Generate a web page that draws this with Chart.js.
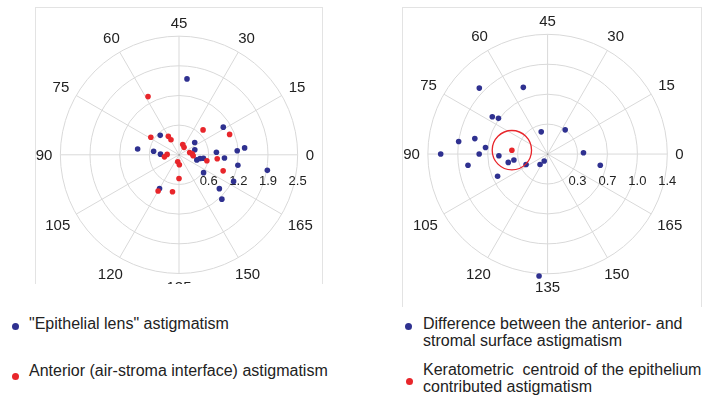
<!DOCTYPE html>
<html>
<head>
<meta charset="utf-8">
<script src="https://cdn.jsdelivr.net/npm/chart.js@4.4.1/dist/chart.umd.min.js"></script>
<style>
    body { margin: 0; width: 706px; height: 401px; background: #fff; position: relative; overflow: hidden;
           font-family: "Liberation Sans", Arial, Helvetica, sans-serif; color: #222; }
    .frame { position: absolute; box-sizing: border-box; border: 1px solid #e3e3e3; border-bottom: none; }
    canvas { position: absolute; }
    .dot { position: absolute; width: 7px; height: 7px; border-radius: 50%; }
    .txt { position: absolute; font-size: 16px; line-height: 17px; white-space: pre; }
</style>
</head>
<body>
<div class="frame" style="left:35px;top:7px;width:288px;height:277px;"></div>
<div class="frame" style="left:402px;top:7px;width:300px;height:300px;"></div>
<canvas id="left-chart" width="288" height="277" style="left:35px;top:7px;"></canvas>
<canvas id="right-chart" width="300" height="300" style="left:402px;top:7px;"></canvas>
<div id="legend"></div>

<script>
// axis labels (degrees) around both plots, drawn at double angle
const angleTicks = [0, 15, 30, 45, 60, 75, 90, 105, 120, 135, 150, 165];

// ring values and their printed labels
const leftRingValues = [0.625, 1.25, 1.875, 2.5];
const leftRingLabels = ["0.6", "1.2", "1.9", "2.5"];
const rightRingValues = [0.35, 0.7, 1.05, 1.4];
const rightRingLabels = ["0.3", "0.7", "1.0", "1.4"];

// left plot: magnitude (D) and axis (deg)
const epithelialMag  = [1.61, 1.10, 0.57, 0.88, 0.54, 0.39, 0.42, 0.35, 0.39, 0.45, 0.52, 0.79, 0.96, 1.23, 1.39, 1.26, 1.89, 0.64, 1.28, 1.11, 1.30, 0.82];
const epithelialAxis = [42, 16, 67, 86, 86, 89, 19, 9, 172, 175, 176, 2, 178, 2, 3, 175, 175, 162, 167, 160, 157, 120];
const anteriorMag    = [1.39, 0.70, 0.45, 0.36, 0.23, 0.19, 0.23, 0.28, 0.30, 0.25, 0.31, 0.15, 0.21, 0.50, 0.88, 0.79, 0.73, 1.15, 0.60, 0.81, 0.99];
const anteriorAxis   = [59, 74, 60, 59, 35, 28, 6, 2, 178, 89, 94, 130, 136, 135, 120, 130, 23, 11, 174, 177, 170];

// right plot
const differenceMag  = [1.11, 0.83, 0.78, 0.71, 0.27, 0.35, 1.05, 0.87, 0.73, 0.80, 1.25, 0.94, 0.57, 0.47, 0.40, 0.28, 0.15, 0.09, 0.64, 0.42, 0.63, 1.43];
const differenceAxis = [68, 55, 73, 72, 53, 27, 86, 84, 87, 90, 90, 94, 91, 96, 95, 103, 117, 122, 102, 1, 174, 133];
const centroidMag    = [0.42];
const centroidAxis   = [86.9];
const centroidRadius = 0.23;

const leftLabels  = ["\"Epithelial lens\" astigmatism", "Anterior (air-stroma interface) astigmatism"];
const rightLabels = ["Difference between the anterior- and\nstromal surface astigmatism",
                     "Keratometric  centroid of the epithelium\ncontributed astigmatism"];

const BLUE = '#2f3190';
const RED = '#e8262b';
const GRID = '#d9d9d9';

// doubled angle plot: axis a is drawn at 2a
function toPoints(mags, axes) {
    return mags.map((m, i) => {
        const a = axes[i] * Math.PI / 90;
        return { x: m * Math.cos(a), y: m * Math.sin(a) };
    });
}

function polarGridPlugin(opts) {
    return {
        id: 'polarGrid',
        beforeDatasetsDraw(chart) {
            const ctx = chart.ctx;
            const xs = chart.scales.x, ys = chart.scales.y;
            const cx = xs.getPixelForValue(0), cy = ys.getPixelForValue(0);
            const rMax = opts.rings[opts.rings.length - 1];
            const R = xs.getPixelForValue(rMax) - cx;

            ctx.save();
            ctx.strokeStyle = GRID;
            ctx.lineWidth = 1;
            opts.rings.forEach((v) => {
                ctx.beginPath();
                ctx.arc(cx, cy, xs.getPixelForValue(v) - cx, 0, Math.PI * 2);
                ctx.stroke();
            });
            angleTicks.forEach((t) => {
                const a = t * Math.PI / 90;
                ctx.beginPath();
                ctx.moveTo(cx, cy);
                ctx.lineTo(cx + R * Math.cos(a), cy - R * Math.sin(a));
                ctx.stroke();
            });
            ctx.fillStyle = '#777';
            ctx.fillRect(cx - 0.5, cy - 0.5, 1.2, 1.2);

            //angle labels
            ctx.fillStyle = '#222';
            ctx.font = '15px "Liberation Sans", Arial, sans-serif';
            ctx.textAlign = 'center';
            ctx.textBaseline = 'middle';
            angleTicks.forEach((t) => {
                const a = t * Math.PI / 90;
                const w = ctx.measureText(String(t)).width;
                const c = Math.cos(a), s = Math.sin(a);
                const d = R + 8 + Math.abs(c) * w / 2 + Math.abs(s) * 5;
                ctx.fillText(String(t), cx + d * c, cy - d * s + 1);
            });

            //ring labels
            ctx.font = '13px "Liberation Sans", Arial, sans-serif';
            opts.rings.forEach((v, i) => {
                ctx.fillText(opts.ringLabels[i], xs.getPixelForValue(v), cy + 27);
            });
            ctx.restore();
        },
        afterDatasetsDraw(chart) {
            if (!opts.circle) {
                return;
            }
            const ctx = chart.ctx;
            const xs = chart.scales.x, ys = chart.scales.y;
            const c = opts.circle;
            const p = toPoints([c.mag], [c.axis])[0];
            const r = xs.getPixelForValue(c.radius) - xs.getPixelForValue(0);
            ctx.save();
            ctx.strokeStyle = RED;
            ctx.lineWidth = 1.3;
            ctx.beginPath();
            ctx.arc(xs.getPixelForValue(p.x), ys.getPixelForValue(p.y), r, 0, Math.PI * 2);
            ctx.stroke();
            ctx.restore();
        }
    };
}

function makePolarChart(id, cfg) {
    const canvas = document.getElementById(id);
    const k = cfg.radiusPx / cfg.rings[cfg.rings.length - 1];
    return new Chart(canvas.getContext('2d'), {
        type: 'scatter',
        data: { datasets: cfg.datasets },
        options: {
            responsive: false,
            animation: false,
            layout: { padding: 0 },
            plugins: { legend: { display: false }, tooltip: { enabled: false } },
            scales: {
                x: { display: false, min: -cfg.cx / k, max: (canvas.width - cfg.cx) / k },
                y: { display: false, min: -(canvas.height - cfg.cy) / k, max: cfg.cy / k }
            },
            elements: { point: { radius: 2.8, borderWidth: 0, hoverRadius: 2.8 } }
        },
        plugins: [polarGridPlugin(cfg)]
    });
}

makePolarChart('left-chart', {
    cx: 144, cy: 148, radiusPx: 121,
    rings: leftRingValues, ringLabels: leftRingLabels,
    datasets: [
        { label: leftLabels[0], data: toPoints(epithelialMag, epithelialAxis), backgroundColor: BLUE, order: 2, clip: false },
        { label: leftLabels[1], data: toPoints(anteriorMag, anteriorAxis), backgroundColor: RED, order: 1, clip: false }
    ]
});

makePolarChart('right-chart', {
    cx: 145.5, cy: 147, radiusPx: 122,
    rings: rightRingValues, ringLabels: rightRingLabels,
    circle: { mag: centroidMag[0], axis: centroidAxis[0], radius: centroidRadius },
    datasets: [
        { label: rightLabels[0], data: toPoints(differenceMag, differenceAxis), backgroundColor: BLUE, order: 2, clip: false },
        { label: rightLabels[1], data: toPoints(centroidMag, centroidAxis), backgroundColor: RED, order: 1, clip: false }
    ]
});

/* legend */
const legendItems = [
    { text: leftLabels[0],  color: BLUE, dot: [15, 326],  x: 29,  y: 315 },
    { text: leftLabels[1],  color: RED,  dot: [15, 376],  x: 29,  y: 362 },
    { text: rightLabels[0], color: BLUE, dot: [408, 326], x: 423, y: 315 },
    { text: rightLabels[1], color: RED,  dot: [409, 381], x: 423, y: 361 }
];
const legend = document.getElementById('legend');
legendItems.forEach((item) => {
    const dot = document.createElement('div');
    dot.className = 'dot';
    dot.style.background = item.color;
    dot.style.left = (item.dot[0] - 3.5) + 'px';
    dot.style.top = (item.dot[1] - 3.5) + 'px';
    legend.appendChild(dot);

    const txt = document.createElement('div');
    txt.className = 'txt';
    txt.style.left = item.x + 'px';
    txt.style.top = item.y + 'px';
    txt.textContent = item.text;
    legend.appendChild(txt);
});
</script>
</body>
</html>
